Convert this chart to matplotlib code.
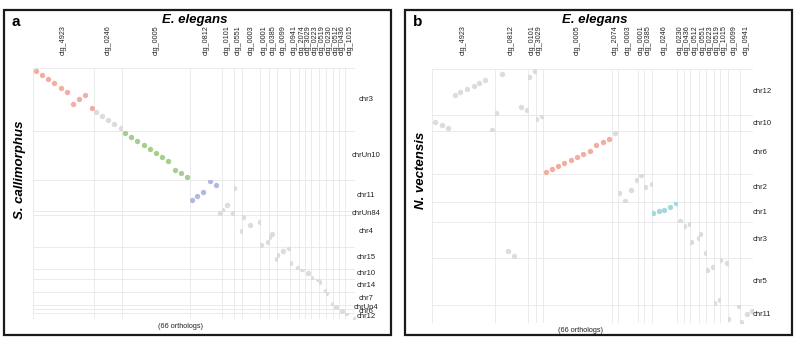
import matplotlib.pyplot as plt
from matplotlib.patches import Rectangle
from matplotlib.transforms import blended_transform_factory

plt.rcParams['font.family'] = ['Liberation Sans', 'DejaVu Sans']

palette = {'red': '#F3ADA3', 'grey': '#DCDCDC', 'green': '#A5CF90',
           'blue': '#B3B8E2', 'cyan': '#A3D8DC'}

# ---- panel a: E. elegans vs S. callimorphus ----
a_contigs = ['ctg_4923', 'ctg_0246', 'ctg_0005', 'ctg_0812', 'ctg_0101', 'ctg_0551',
             'ctg_0003', 'ctg_0001', 'ctg_0385', 'ctg_0099', 'ctg_0941', 'ctg_2074',
             'ctg_3029', 'ctg_0223', 'ctg_0519', 'ctg_0230', 'ctg_0512', 'ctg_0436',
             'ctg_1015']
a_chroms = ['chr3', 'chrUn10', 'chr11', 'chrUn84', 'chr4', 'chr15', 'chr10', 'chr14',
            'chr7', 'chrUn4', 'chr6', 'chr12']

a_blk_contig = ['ctg_4923', 'ctg_0246', 'ctg_0005', 'ctg_0812', 'ctg_0812',
                'ctg_0101', 'ctg_0101', 'ctg_0551', 'ctg_0551', 'ctg_0003',
                'ctg_0001', 'ctg_0385', 'ctg_0385', 'ctg_0099', 'ctg_0941',
                'ctg_2074', 'ctg_3029', 'ctg_0223', 'ctg_0223', 'ctg_0519',
                'ctg_0230', 'ctg_0512', 'ctg_0436', 'ctg_1015']
a_blk_chrom = ['chr3', 'chr3', 'chrUn10', 'chr11', 'chrUn84',
               'chr11', 'chrUn84', 'chr11', 'chr4', 'chr4',
               'chr4', 'chr4', 'chr15', 'chr15', 'chr15',
               'chr10', 'chr10', 'chr10', 'chr14', 'chr14',
               'chr7', 'chrUn4', 'chr6', 'chr12']
a_blk_color = ['red', 'grey', 'green', 'blue', 'grey'] + ['grey'] * 19
a_blk_x = [[0.5, 1.5, 2.5, 3.5, 4.5, 5.5, 6.5, 7.5, 8.5, 9.5],
           [10.3, 11.3, 12.3, 13.3, 14.3],
           [15.0, 16.0, 17.0, 18.0, 19.0, 20.0, 21.0, 22.0, 23.0, 24.0, 25.0],
           [25.9, 26.8, 27.8, 28.9, 29.8],
           [30.5],
           [31.2, 32.0], [33.0],
           [33.1], [34.3],
           [34.5, 35.7, 37.2],
           [37.0, 38.2],
           [38.4, 38.9], [39.6],
           [40.0, 40.9, 41.9],
           [42.3, 43.6],
           [43.8], [44.8],
           [45.4], [46.5],
           [46.9, 48.0],
           [48.1, 49.1],
           [49.8], [50.6],
           [51.4, 52.8]]
a_blk_y = [[0.3, 1.4, 2.4, 3.4, 4.4, 5.4, 8.4, 7.3, 6.3, 9.3],
           [10.3, 11.3, 12.4, 13.3, 14.3],
           [15.6, 16.6, 17.6, 18.5, 19.5, 20.5, 21.5, 22.5, 24.6, 25.5, 26.5],
           [32.1, 31.3, 30.3, 27.5, 28.5],
           [35.4],
           [34.6, 33.4], [35.4],
           [29.3], [39.3],
           [35.9, 38.0, 37.2],
           [42.9, 42.0],
           [40.8, 40.0], [46.8],
           [45.9, 45.0, 44.1],
           [47.8, 49.0],
           [49.0], [49.9],
           [51.2], [51.9],
           [52.5, 54.9],
           [55.0, 57.9],
           [58.2], [59.0],
           [60.0, 61.3]]

# ---- panel b: E. elegans vs N. vectensis ----
b_contigs = ['ctg_4923', 'ctg_0812', 'ctg_0101', 'ctg_3029', 'ctg_0005', 'ctg_2074',
             'ctg_0003', 'ctg_0001', 'ctg_0385', 'ctg_0246', 'ctg_0230', 'ctg_0436',
             'ctg_0512', 'ctg_0551', 'ctg_0223', 'ctg_0519', 'ctg_1015', 'ctg_0099',
             'ctg_0941']
b_chroms = ['chr12', 'chr10', 'chr6', 'chr2', 'chr1', 'chr3', 'chr5', 'chr11']

b_blk_contig = ['ctg_4923', 'ctg_4923', 'ctg_0812', 'ctg_0812', 'ctg_0101',
                'ctg_3029', 'ctg_0005', 'ctg_2074', 'ctg_0003', 'ctg_0001',
                'ctg_0385', 'ctg_0246', 'ctg_0230', 'ctg_0436', 'ctg_0512',
                'ctg_0551', 'ctg_0223', 'ctg_0519', 'ctg_1015', 'ctg_0099',
                'ctg_0941']
b_blk_chrom = ['chr10', 'chr12', 'chr12', 'chr3', 'chr12',
               'chr10', 'chr6', 'chr6', 'chr2', 'chr2',
               'chr2', 'chr1', 'chr1', 'chr3', 'chr3',
               'chr3', 'chr5', 'chr5', 'chr5', 'chr11',
               'chr11']
b_blk_color = ['grey'] * 6 + ['red'] + ['grey'] * 4 + ['cyan'] + ['grey'] * 9
b_blk_x = [[0.4, 1.5, 2.5, 9.5],
           [3.6, 4.5, 5.5, 6.6, 7.5, 8.5],
           [10.4, 11.4, 14.4, 15.3],
           [12.3, 13.3],
           [15.9, 17.0],
           [16.9, 17.9],
           [18.4, 19.4, 20.4, 21.4, 22.4, 23.4, 24.4, 25.5, 26.4, 27.5, 28.5],
           [29.8],
           [30.4, 31.3, 32.3, 33.3],
           [34.1],
           [34.9, 36.0],
           [36.0, 36.9, 37.8, 38.7, 39.7],
           [40.5],
           [41.5, 42.5],
           [42.8, 44.1],
           [43.9, 44.9],
           [44.9, 46.0],
           [46.4, 47.3],
           [47.2, 48.3],
           [48.4, 50.2],
           [50.5, 51.6, 52.4]]
b_blk_y = [[12.8, 13.5, 14.2, 14.8],
           [6.3, 5.6, 4.9, 4.2, 3.5, 2.8],
           [10.5, 1.3, 9.1, 9.9],
           [43.9, 45.1],
           [2.0, 0.6],
           [12.1, 11.3],
           [25.0, 24.3, 23.6, 22.9, 22.1, 21.5, 20.7, 20.0, 18.6, 17.8, 17.1],
           [15.8],
           [30.2, 32.0, 29.4, 27.1],
           [26.0],
           [28.9, 28.0],
           [35.2, 34.8, 34.5, 33.7, 32.8],
           [37.2],
           [38.0, 37.5],
           [41.7, 40.9],
           [39.9, 44.3],
           [48.9, 48.2],
           [56.7, 55.9],
           [46.4, 47.2],
           [61.2, 58.2],
           [62.0, 60.0, 59.4]]


def facet_spans(order, blk_names, blk_vals):
    # free scales + free space, 5% expansion like ggplot facet_grid
    spans = {}
    pos = 0.0
    for name in order:
        vals = [v for n, vs in zip(blk_names, blk_vals) if n == name for v in vs]
        lo, hi = min(vals), max(vals)
        if hi - lo < 1e-9:
            lo, hi = lo - 0.5, hi + 0.5
        else:
            pad = 0.05 * (hi - lo)
            lo, hi = lo - pad, hi + pad
        spans[name] = (pos, lo, hi)
        pos += hi - lo
    return spans, pos


def draw_panel(fig, rect, contigs, chroms, blk_contig, blk_chrom, blk_color,
               blk_x, blk_y, strip_x, strip_ha):
    ax = fig.add_axes(rect)
    xs, xtot = facet_spans(contigs, blk_contig, blk_x)
    ys, ytot = facet_spans(chroms, blk_chrom, blk_y)
    ax.set_xlim(0, xtot)
    ax.set_ylim(ytot, 0)
    ax.axis('off')

    for c in contigs:
        ax.axvline(xs[c][0], color='#E8E8E8', lw=0.6, zorder=0)
    ax.axvline(xtot, color='#E8E8E8', lw=0.6, zorder=0)
    for r in chroms:
        ax.axhline(ys[r][0], color='#E8E8E8', lw=0.6, zorder=0)
    ax.axhline(ytot, color='#E8E8E8', lw=0.6, zorder=0)

    for c, r, col, bx, by in zip(blk_contig, blk_chrom, blk_color, blk_x, blk_y):
        x0, xlo, xhi = xs[c]
        y0, ylo, yhi = ys[r]
        px = [x0 + v - xlo for v in bx]
        py = [y0 + v - ylo for v in by]
        sc = ax.scatter(px, py, s=15, color=palette[col], linewidths=0, zorder=2)
        sc.set_clip_path(Rectangle((x0, y0), xhi - xlo, yhi - ylo,
                                   transform=ax.transData))

    top = blended_transform_factory(ax.transData, fig.transFigure)
    for c in contigs:
        x0, lo, hi = xs[c]
        ax.text(x0 + (hi - lo) / 2, 1 - 55 / 349, c, transform=top, rotation=90,
                ha='center', va='bottom', fontsize=5.2, color='#222222')
    side = blended_transform_factory(fig.transFigure, ax.transData)
    for r in chroms:
        y0, lo, hi = ys[r]
        ax.text(strip_x / 800, y0 + (hi - lo) / 2, r, transform=side,
                ha=strip_ha, va='center', fontsize=5.5, color='#222222')
    return ax


fig = plt.figure(figsize=(8, 3.49), dpi=100)

draw_panel(fig, [33 / 800, 1 - 319 / 349, 322 / 800, 251 / 349],
           a_contigs, a_chroms, a_blk_contig, a_blk_chrom, a_blk_color,
           a_blk_x, a_blk_y, 366, 'center')
draw_panel(fig, [432 / 800, 1 - 323 / 349, 321 / 800, 254 / 349],
           b_contigs, b_chroms, b_blk_contig, b_blk_chrom, b_blk_color,
           b_blk_x, b_blk_y, 753, 'left')

for x0, letter, species, title_x in [(4, 'a', 'S. callimorphus', 195),
                                     (405, 'b', 'N. vectensis', 595)]:
    fig.add_artist(Rectangle((x0 / 800, 1 - 335 / 349), 387 / 800, 325 / 349,
                             transform=fig.transFigure, fill=False,
                             lw=1.6, ec='#1a1a1a'))
    fig.text((x0 + 8) / 800, 1 - 22 / 349, letter, fontsize=11, fontweight='bold',
             ha='left', va='center')
    fig.text(title_x / 800, 1 - 20 / 349, 'E. elegans', fontsize=9.5,
             fontweight='bold', fontstyle='italic', ha='center', va='center')
    fig.text((x0 + 16) / 800, 1 - 170 / 349, species, fontsize=9.5,
             fontweight='bold', fontstyle='italic', rotation=90,
             ha='center', va='center')

fig.text(180 / 800, 1 - 327 / 349, '(66 orthologs)', fontsize=5.2,
         ha='center', va='center', color='#222222')
fig.text(580 / 800, 1 - 330 / 349, '(66 orthologs)', fontsize=5.2,
         ha='center', va='center', color='#222222')

fig.savefig('out.png', dpi=100)
